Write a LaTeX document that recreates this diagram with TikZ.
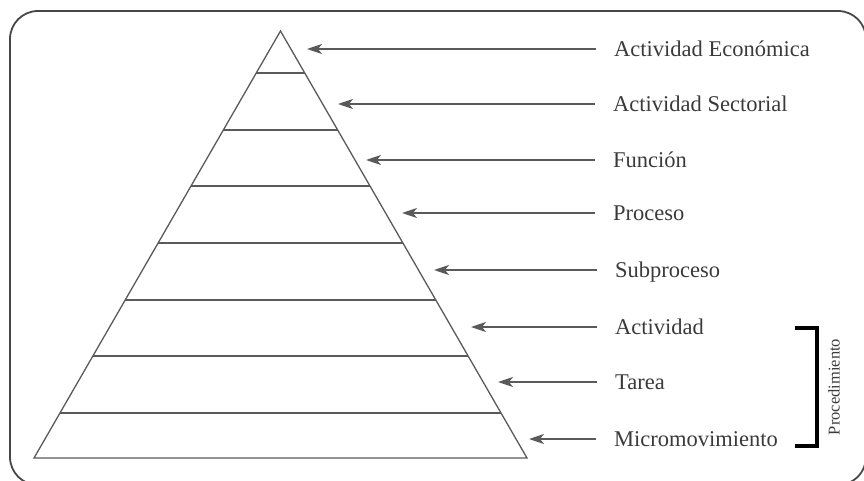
\documentclass[tikz,border=0pt]{standalone}
\usepackage{fontspec}
\setmainfont{Liberation Serif}
\usetikzlibrary{arrows.meta,calc}
\definecolor{framegray}{HTML}{474747}
\definecolor{linegray}{HTML}{5A5A5A}
\definecolor{textgray}{HTML}{3A3A3A}
\tikzset{
  frame/.style={draw=framegray, line width=1.8pt, rounded corners=28pt},
  level/.style={draw=linegray, line width=1.3pt},
  levellabel/.style={anchor=west, inner sep=0pt, text=textgray,
    font=\fontsize{22.5}{26}\selectfont, text height=15pt, text depth=0pt},
  pointer/.style={draw=linegray, line width=1.4pt, shorten <=18pt,
    -{Stealth[length=15pt,width=10pt,inset=4pt]}},
  bracket/.style={draw=black, line width=3.2pt},
  sidelabel/.style={rotate=90, inner sep=0pt, text=textgray,
    font=\fontsize{16.5}{19}\selectfont}
}
\begin{document}
\begin{tikzpicture}[x=1pt, y=-1pt]
\useasboundingbox (0,0) rectangle (864,481);
% outer rounded frame
\draw[frame] (10,11) rectangle (866,485);

% pyramid outline
\coordinate (apex) at (280.5,31);
\coordinate (bl) at (34,458);
\coordinate (br) at (527,458);
\draw[level, line join=miter] (apex) -- (bl) -- (br) -- cycle;

% level dividers (fractions of the height measured from the apex)
\foreach \t in {0.0984,0.2319,0.3630,0.4965,0.6300,0.7611,0.8946}{
  \draw[level] ($(apex)!\t!(bl)$) -- ($(apex)!\t!(br)$);
}

% labels
\node[levellabel] (l1) at (614,49)  {Actividad Económica};
\node[levellabel] (l2) at (613,104) {Actividad Sectorial};
\node[levellabel] (l3) at (613,160) {Función};
\node[levellabel] (l4) at (613,213) {Proceso};
\node[levellabel] (l5) at (615,270) {Subproceso};
\node[levellabel] (l6) at (615,327) {Actividad};
\node[levellabel] (l7) at (615,382) {Tarea};
\node[levellabel] (l8) at (614,439) {Micromovimiento};

% arrow tips beside the pyramid edge
\coordinate (t1) at (307,49);
\coordinate (t2) at (338,104);
\coordinate (t3) at (366,160);
\coordinate (t4) at (402,213);
\coordinate (t5) at (434,270);
\coordinate (t6) at (471,327);
\coordinate (t7) at (498,382);
\coordinate (t8) at (529,439);

\foreach \i in {1,...,8}{
  \draw[pointer] (l\i.west) -- (t\i);
}

% bracket grouping the lower three levels
\coordinate (bt) at (795,328);
\coordinate (bb) at (795,446);
\draw[bracket] (bt) -| (817,446) -- (bb);
\node[sidelabel] (proc) at (834,387) {Procedimiento};
\end{tikzpicture}
\end{document}
